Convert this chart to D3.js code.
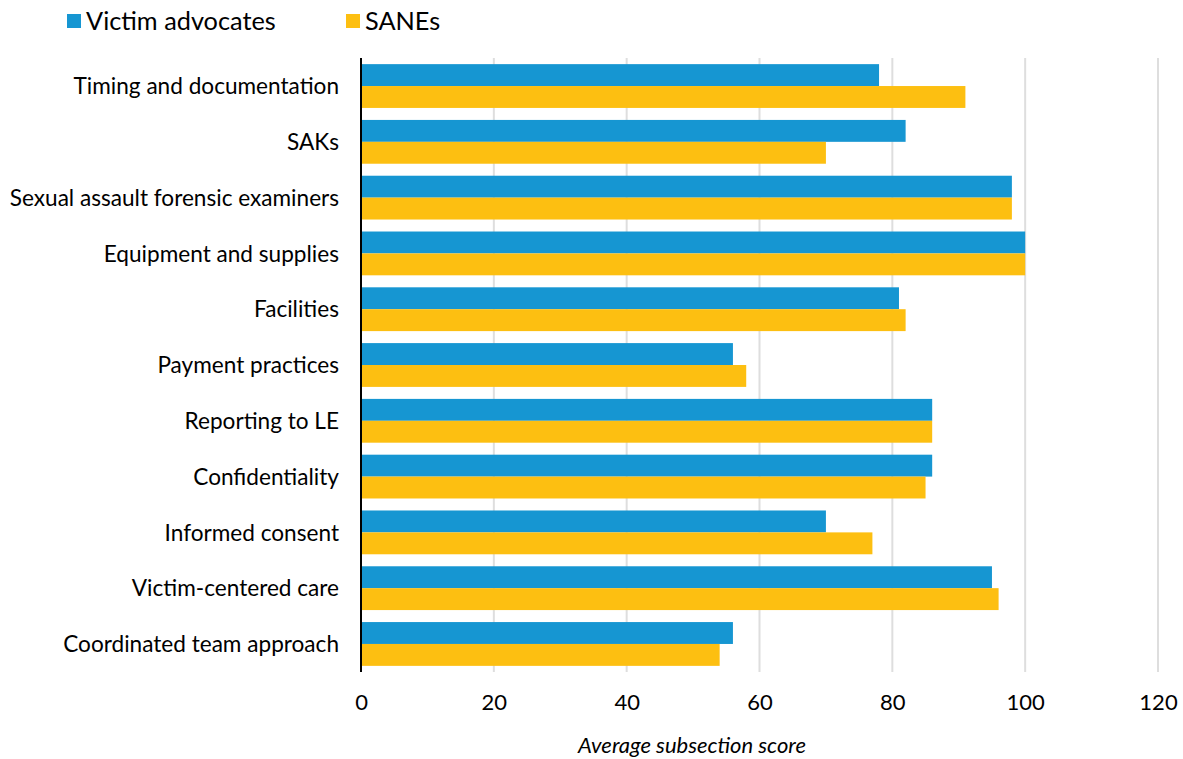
<!DOCTYPE html>
<html><head><meta charset="utf-8">
<script src="https://cdn.jsdelivr.net/npm/d3@7"></script>
<style>body{margin:0;background:#fff;font-family:Lato,sans-serif;}</style>
</head><body>
<svg id="c" width="1183" height="759"></svg>
<script>
const categories = ["Timing and documentation","SAKs","Sexual assault forensic examiners","Equipment and supplies","Facilities","Payment practices","Reporting to LE","Confidentiality","Informed consent","Victim-centered care","Coordinated team approach"];
const seriesNames = ["Victim advocates","SANEs"];
const victimAdvocates = [78,82,98,100,81,56,86,86,70,95,56];
const sanes = [91,70,98,100,82,58,86,85,77,96,54];
const xTicks = [0,20,40,60,80,100,120];
const colors = ["#1696d2","#fdbf11"];

const svg = d3.select("#c");
const m = {left:361, right:1158, top:58, bottom:672};
const x = d3.scaleLinear().domain([0,120]).range([m.left, m.right]);
const y = d3.scaleBand().domain(categories).range([m.top, m.bottom]).paddingInner(0.215).paddingOuter(0.11);
const y1 = d3.scaleBand().domain(seriesNames).range([0, y.bandwidth()]);

// gridlines
svg.append("g").selectAll("line").data(xTicks.filter(d=>d>0)).join("line")
  .attr("x1",d=>x(d)).attr("x2",d=>x(d)).attr("y1",m.top).attr("y2",m.bottom)
  .attr("stroke","#dedede").attr("stroke-width",2);

const data = categories.map((c,i)=>({c, vals:[victimAdvocates[i], sanes[i]]}));
const g = svg.append("g");
data.forEach(d=>{
  d.vals.forEach((v,j)=>{
    g.append("rect").attr("x",x(0)).attr("y",y(d.c)+y1(seriesNames[j]))
      .attr("width",x(v)-x(0)).attr("height",y1.bandwidth()).attr("fill",colors[j]);
  });
});

// zero axis
svg.append("line").attr("x1",x(0)).attr("x2",x(0)).attr("y1",m.top).attr("y2",m.bottom)
  .attr("stroke","#000").attr("stroke-width",2);

// x axis
const xa = svg.append("g").attr("transform",`translate(0,${m.bottom})`)
  .call(d3.axisBottom(x).tickValues(xTicks).tickSize(0).tickPadding(22));
xa.select(".domain").remove();
xa.selectAll("text").attr("font-family","Lato").attr("font-size",22).attr("fill","#000");

// y axis labels
const ya = svg.append("g").attr("transform",`translate(${m.left},0)`)
  .call(d3.axisLeft(y).tickSize(0).tickPadding(22));
ya.select(".domain").remove();
ya.selectAll("text").attr("font-family","Lato").attr("font-size",22.6).attr("fill","#000")
  .attr("dy","0.36em");

// axis title
svg.append("text").attr("x",692).attr("y",753).attr("text-anchor","middle")
  .attr("font-family","Lato").attr("font-style","italic").attr("font-size",22).attr("fill","#000")
  .text("Average subsection score");

// legend
const legX = [67, 346];
seriesNames.forEach((s,i)=>{
  svg.append("rect").attr("x",legX[i]).attr("y",14).attr("width",14).attr("height",14).attr("fill",colors[i]);
  svg.append("text").attr("x",legX[i]+19).attr("y",30).attr("font-family","Lato").attr("font-size",25.3).attr("fill","#000").text(s);
});
</script>
</body></html>
